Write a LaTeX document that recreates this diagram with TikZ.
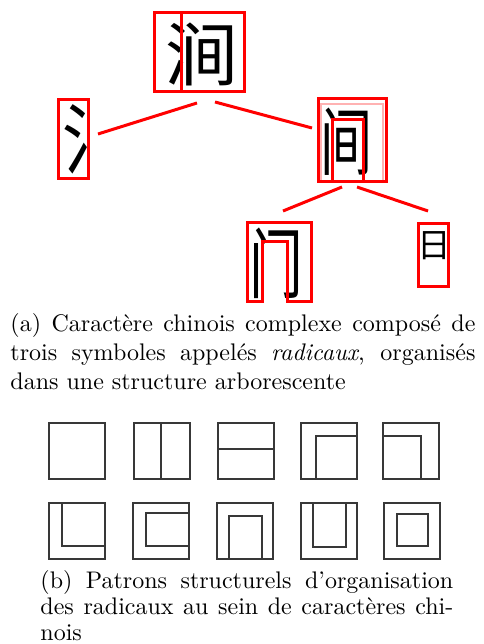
\documentclass[tikz,border=0pt]{standalone}
\usepackage{fontspec}
\newfontfamily\cjk{Noto Sans CJK SC}
\begin{document}
\begin{tikzpicture}[x=0.41667pt,y=-0.41667pt,
  rbox/.style={draw=red,line width=1.25pt},
  pale/.style={draw=red!30,line width=0.5pt},
  conn/.style={red,line width=1.25pt},
  glyph/.style={inner sep=0pt,font=\cjk\fontsize{32}{32}\selectfont},
  pat/.style={draw=black!78,line width=0.55pt},
  captxt/.style={inner sep=0pt,anchor=north west,align=justify}]
\useasboundingbox (0,0) rectangle (483,644);

% ---- glyphs
\node[glyph,font=\cjk\fontsize{29}{29}\selectfont] (g0) at (202,54) {\scalebox{1.05}[1]{涧}};
\node[glyph] (g1) at (93,139) {\scalebox{0.8}[1]{氵}};
\node[glyph,font=\cjk\fontsize{31}{31}\selectfont] (g2) at (347,142) {\scalebox{0.7}[1]{间}};
\node[glyph] (g3) at (276,263) {\scalebox{0.7}[1]{门}};
\node[glyph,font=\cjk\fontsize{14}{14}\selectfont] (g4) at (434,246) {日};

% ---- red boxes
\draw[rbox] (154,13) rectangle (244,92);
\draw[rbox] (181,13) -- (181,92);
\draw[rbox] (58,100) rectangle (88,179);
\draw[pale] (321,104) rectangle (383,182);
\draw[rbox] (318,99) rectangle (386,182);
\draw[rbox] (332,182) -- (332,120) -- (363,120) -- (363,182);
\draw[rbox] (247,302) -- (247,223) -- (311,223) -- (311,302) -- (287,302) -- (287,242) -- (262,242) -- (262,302) -- cycle;
\draw[rbox] (418,224) rectangle (448,287);

% ---- connectors
\coordinate (ra) at (197,103);
\coordinate (rb) at (215,102);
\coordinate (la) at (98,134);
\coordinate (ma) at (312,128);
\coordinate (mb) at (342,187);
\coordinate (mc) at (357,187);
\coordinate (da) at (283,211);
\coordinate (db) at (428,211);
\draw[conn] (la) -- (ra);
\draw[conn] (rb) -- (ma);
\draw[conn] (da) -- (mb);
\draw[conn] (mc) -- (db);

% ---- caption a
\node[captxt,text width=193.75pt,font=\fontsize{10}{12}\selectfont] (capa) at (10,313)
 {(a) Caractère chinois complexe composé de\linebreak trois symboles appelés \emph{radicaux}, organisés\linebreak dans une structure arborescente};

% ---- patterns row 1 (size 56)
\def\s{56}
\draw[pat] (49,423) rectangle ++(\s,\s);
\draw[pat] (134,423) rectangle ++(\s,\s);
\draw[pat] (161,423) -- (161,479);
\draw[pat] (218,423) rectangle ++(\s,\s);
\draw[pat] (218,449) -- (274,449);
\draw[pat] (301,423) rectangle ++(\s,\s);
\draw[pat] (316,479) -- (316,436) -- (357,436);
\draw[pat] (383,423) rectangle ++(\s,\s);
\draw[pat] (383,436) -- (421,436) -- (421,479);

% ---- patterns row 2
\draw[pat] (49,503) rectangle ++(\s,\s);
\draw[pat] (62,503) -- (62,546) -- (105,546);
\draw[pat] (133,503) rectangle ++(\s,\s);
\draw[pat] (189,513) -- (146,513) -- (146,546) -- (189,546);
\draw[pat] (217,503) rectangle ++(\s,\s);
\draw[pat] (229,559) -- (229,516) -- (262,516) -- (262,559);
\draw[pat] (301,503) rectangle ++(\s,\s);
\draw[pat] (313,503) -- (313,547) -- (346,547) -- (346,503);
\draw[pat] (384,503) rectangle ++(\s,\s);
\draw[pat] (397,514) rectangle (428,546);

% ---- caption b
\node[captxt,text width=172pt,font=\fontsize{10}{10.8}\selectfont] (capb) at (40,570)
 {(b) Patrons structurels d'organisation\linebreak des radicaux au sein de caractères chi-\linebreak nois};
\end{tikzpicture}
\end{document}
